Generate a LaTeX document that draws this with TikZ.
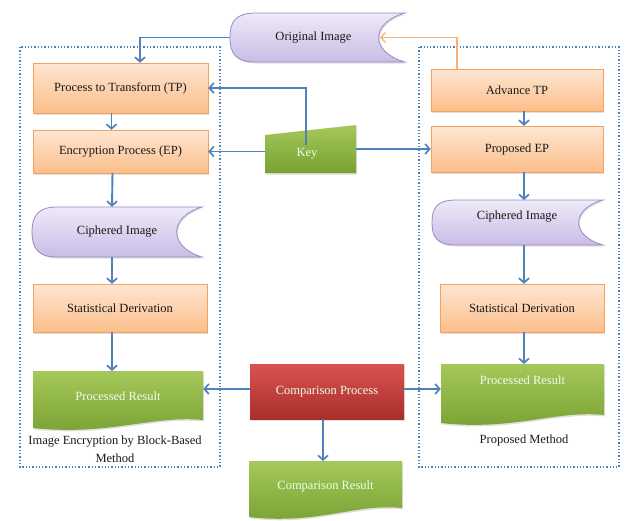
\documentclass[tikz,border=0pt]{standalone}
\usepackage{fontspec}
\setmainfont{Liberation Serif}
\usetikzlibrary{arrows.meta,shadows,calc}
\definecolor{arrowblue}{HTML}{4F81BD}
\definecolor{orbd}{HTML}{F6A25C}
\definecolor{ortop}{HTML}{FEE6D2}
\definecolor{orbot}{HTML}{FBBE8A}
\definecolor{pubd}{HTML}{9A88C6}
\definecolor{putop}{HTML}{EEEAF8}
\definecolor{pubot}{HTML}{C9BCE6}
\definecolor{grtop}{HTML}{A5C85A}
\definecolor{grbot}{HTML}{78A032}
\definecolor{rdtop}{HTML}{D9534F}
\definecolor{rdbot}{HTML}{A82E2A}
\definecolor{origline}{HTML}{F7B27A}
\tikzset{
  lbl/.style={font=\fontsize{12.5}{14}\selectfont, text=black!90, inner sep=0pt},
  wlbl/.style={font=\fontsize{12.5}{14}\selectfont, text=white!92!green, inner sep=0pt},
  orbox/.style={draw=orbd, line width=0.8pt, top color=ortop, bottom color=orbot,
     drop shadow={opacity=0.25, shadow xshift=1pt, shadow yshift=-1.5pt}},
  pushape/.style={draw=pubd, line width=0.8pt, top color=putop, bottom color=pubot,
     drop shadow={opacity=0.25, shadow xshift=1pt, shadow yshift=-1.5pt}},
  grshape/.style={top color=grtop, bottom color=grbot,
     drop shadow={opacity=0.25, shadow xshift=1pt, shadow yshift=-1.5pt}},
  rdshape/.style={top color=rdtop, bottom color=rdbot,
     drop shadow={opacity=0.25, shadow xshift=1pt, shadow yshift=-1.5pt}},
  conn/.style={draw=arrowblue, line width=1.9pt, -{Straight Barb[length=4.5pt,width=10pt,line width=1.7pt]}},
  oconn/.style={draw=origline, line width=1.5pt, -{Straight Barb[length=4.5pt,width=10pt,line width=1.4pt]}},
  dotbox/.style={draw=arrowblue, line width=1.3pt, dotted},
}
% stored data shape: x1,y1,x2,y2,r
\newcommand{\sdpath}[6]{%
  \path[#6] (#1+#5,#2) -- (#3,#2)
    .. controls (#3-#5*1.35,#2+0.2*#4-0.2*#2) and (#3-#5*1.35,#4-0.2*#4+0.2*#2) .. (#3,#4)
    -- (#1+#5,#4)
    .. controls (#1+0.2*#5,#4) and (#1,0.5*#2+0.5*#4+0.6*#5) .. (#1,0.5*#2+0.5*#4)
    .. controls (#1,0.5*#2+0.5*#4-0.6*#5) and (#1+0.2*#5,#2) .. (#1+#5,#2) -- cycle;}
% document shape: x1,y1,x2,yL,yR
\newcommand{\docpath}[6]{%
  \path[#6] (#1,#2) -- (#3,#2) -- (#3,#5)
    .. controls (#3-0.3*#3+0.3*#1,#5-5) and (#1+0.45*#3-0.45*#1,#4+8) .. (#1,#4) -- cycle;}
\begin{document}
\begin{tikzpicture}[x=1pt,y=-1pt]
\useasboundingbox (0,0) rectangle (627,520);
% dotted containers
\draw[dotbox] (20,47) rectangle (220,467);
\draw[dotbox] (419,47) rectangle (619,467);

% Original Image
\sdpath{230}{13}{405}{62}{26}{pushape}
\node[lbl, minimum width=175pt, minimum height=49pt] (oi) at (317.5,37.5) {\hspace*{-8pt}Original Image};
\coordinate (oiR) at (380,37.5);

% left column
\path[orbox] (33,63) rectangle (208,113);
\node[lbl, minimum width=175pt, minimum height=50pt] (tp) at (120.5,88) {Process to Transform (TP)};
\path[orbox] (33,130) rectangle (208,173);
\node[lbl, minimum width=175pt, minimum height=43pt] (ep) at (120.5,151.5) {Encryption Process (EP)};
\sdpath{32}{207}{202}{257}{25}{pushape}
\node[lbl, minimum width=170pt, minimum height=50pt] (cil) at (117,232) {Ciphered Image};
\path[orbox] (33,284) rectangle (207,332);
\node[lbl, minimum width=174pt, minimum height=48pt] (sdl) at (120,308) {Statistical Derivation};
\docpath{33}{371}{203}{428}{420}{grshape}
\node[wlbl, minimum width=170pt, minimum height=50pt] (prl) at (118,396) {Processed Result};
\node[lbl, align=center, font=\fontsize{12.5}{18}\selectfont] (capl) at (115,449) {Image Encryption by Block-Based\\Method};

% right column
\path[orbox] (431,69) rectangle (603,111);
\node[lbl, minimum width=172pt, minimum height=42pt] (atp) at (517,90) {Advance TP};
\path[orbox] (431,126) rectangle (603,172);
\node[lbl, minimum width=172pt, minimum height=46pt] (pep) at (517,149) {Proposed EP};
\sdpath{432}{200}{603}{245}{24}{pushape}
\node[lbl, minimum width=171pt, minimum height=34pt] (cir) at (517,217) {Ciphered Image};
\path[orbox] (440,284) rectangle (604,332);
\node[lbl, minimum width=164pt, minimum height=48pt] (sdr) at (522,308) {Statistical Derivation};
\docpath{441}{364}{604}{423}{415}{grshape}
\node[wlbl, minimum width=163pt, minimum height=32pt] (prr) at (522.5,380) {Processed Result};
\node[lbl] (capr) at (524,440) {Proposed Method};

% Key
\path[grshape] (265,135) -- (356,125) -- (356,173) -- (265,173) -- cycle;
\node[wlbl, minimum width=91pt, minimum height=38pt] (key) at (310.5,154) {\hspace*{-7pt}Key};

% Comparison
\path[rdshape] (250,364) rectangle (404,419);
\node[wlbl, minimum width=154pt, minimum height=55pt] (cp) at (327,391.5) {Comparison Process};
\docpath{249}{461}{402}{517}{508}{grshape}
\node[wlbl, minimum width=153pt, minimum height=50pt] (cr) at (325.5,486) {Comparison Result};

% connectors
\draw[conn] (oi.west) -| ([xshift=19.5pt]tp.north);
\draw[oconn] ([xshift=-60pt]atp.north) |- (oiR);
\draw[conn] ([xshift=-4.5pt,yshift=-10pt]key.north) |- (tp.east);
\draw[conn] (key.west |- ep.east) -- (ep.east);
\draw[conn] (key.east |- pep.west) -- (pep.west);
\draw[conn] ([xshift=-9pt]tp.south) -- ([xshift=-9pt]ep.north);
\draw[conn] ([xshift=-8pt]ep.south) -- ([xshift=-5pt]cil.north);
\draw[conn] ([xshift=-5pt]cil.south) -- ([xshift=-8pt]sdl.north);
\draw[conn] ([xshift=-8pt]sdl.south) -- ([xshift=-6pt]prl.north |- 0,371);
\draw[conn] ([xshift=7pt]atp.south) -- ([xshift=7pt]pep.north);
\draw[conn] ([xshift=7pt]pep.south) -- ([xshift=7pt]cir.north |- 0,200);
\draw[conn] ([xshift=7pt]cir.south |- 0,245) -- ([xshift=2pt]sdr.north);
\draw[conn] ([xshift=2pt]sdr.south) -- ([xshift=1.5pt]prr.north |- 0,364);
\draw[conn] ([yshift=2.5pt]cp.west) -- ([yshift=2.5pt]cp.west -| prl.east);
\draw[conn] ([yshift=2.5pt]cp.east) -- ([yshift=2.5pt]cp.east -| prr.west);
\draw[conn] ([xshift=-4pt]cp.south) -- ([xshift=-2.5pt]cr.north |- 0,461);
\end{tikzpicture}
\end{document}
